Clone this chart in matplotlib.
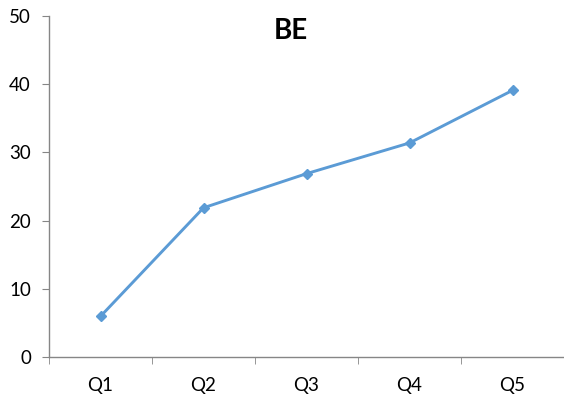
import matplotlib
matplotlib.use("Agg")
import matplotlib.pyplot as plt
import numpy as np

categories = ["Q1", "Q2", "Q3", "Q4", "Q5"]
values = [6.0, 21.9, 26.9, 31.4, 39.1]
y_ticks = [0, 10, 20, 30, 40, 50]

plt.rcParams["font.family"] = ["Lato", "DejaVu Sans"]

fig = plt.figure(figsize=(5.64, 3.99), dpi=100)
ax = fig.add_axes([49 / 564, 0.1045, 1 - 49 / 564, 0.8555])

x = np.arange(len(categories))
ax.plot(x, values, color="#5B9BD5", linewidth=2.1, marker="D", markersize=5,
        markeredgecolor="#5B9BD5", markerfacecolor="#5B9BD5")

ax.set_xlim(-0.5, len(categories) - 0.5)
ax.set_ylim(0, 50)
ax.set_yticks(y_ticks)
ax.set_yticklabels([str(t) for t in y_ticks])
ax.set_xticks(x)
ax.set_xticklabels(categories)
ax.set_xticks(np.arange(-0.5, len(categories), 1.0), minor=True)

axis_color = "#868686"
for side in ["top", "right"]:
    ax.spines[side].set_visible(False)
for side in ["left", "bottom"]:
    ax.spines[side].set_color(axis_color)
    ax.spines[side].set_linewidth(1.0)

ax.tick_params(axis="y", direction="out", length=5, color=axis_color,
               labelsize=13.5, pad=8, labelcolor="#000000")
ax.tick_params(axis="x", which="major", length=0, labelsize=13.5, pad=14,
               labelcolor="#000000")
ax.tick_params(axis="x", which="minor", direction="out", length=5,
               color=axis_color)

fig.text(291 / 564, 1 - 31 / 399, "BE", ha="center", va="center",
         fontsize=20, fontweight="bold")

fig.savefig("out.png", dpi=100)
